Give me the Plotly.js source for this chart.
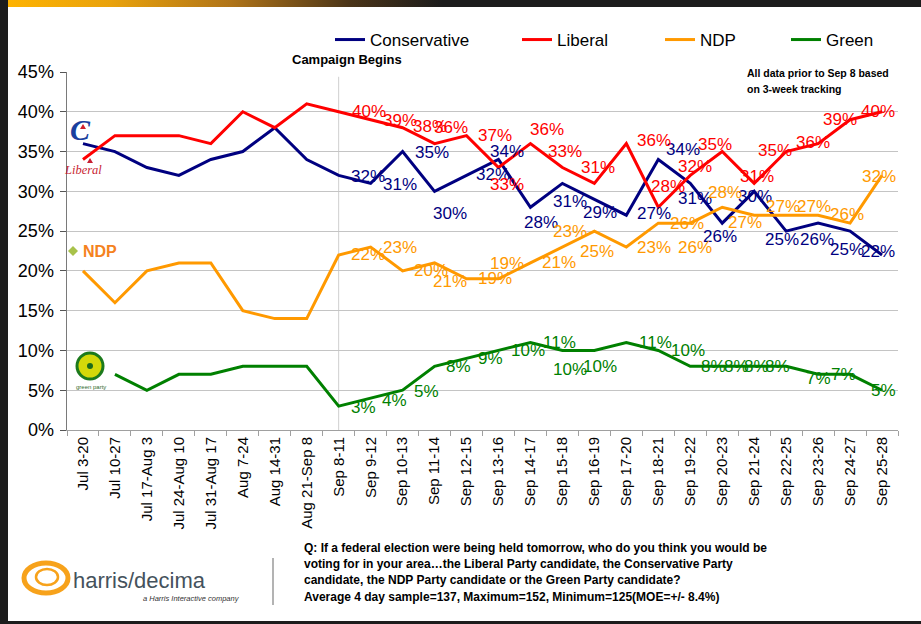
<!DOCTYPE html>
<html>
<head>
<meta charset="utf-8">
<script src="https://cdn.plot.ly/plotly-3.0.1.min.js"></script>
<style>
  html, body { margin: 0; padding: 0; background: #ffffff; }
  #wrap { position: relative; width: 921px; height: 624px; overflow: hidden; }
  #chart { position: absolute; left: 0; top: 0; width: 921px; height: 624px; }
  .frame { position: absolute; pointer-events: none; }
  #topband { left: 0; top: 0; width: 921px; height: 7px;
    background: linear-gradient(to right, #ffb400 0%, #e9a20c 12%, #b07418 25%, #4a3418 38%, #1c1c1c 48%, #1c1c1c 100%); }
  #leftband { left: 0; top: 0; width: 8px; height: 624px; background: #1c1c1c; }
  #bottomband { left: 0; top: 621px; width: 921px; height: 3px; background: #1c1c1c; }
</style>
</head>
<body>
<div id="wrap">
  <div id="chart"></div>
  <div class="frame" id="topband"></div>
  <div class="frame" id="leftband"></div>
  <div class="frame" id="bottomband"></div>
</div>
<script>
// ---------------- DATA ----------------
const categories = ["Jul 3-20","Jul 10-27","Jul 17-Aug 3","Jul 24-Aug 10","Jul 31-Aug 17","Aug 7-24","Aug 14-31","Aug 21-Sep 8",
  "Sep 8-11","Sep 9-12","Sep 10-13","Sep 11-14","Sep 12-15","Sep 13-16","Sep 14-17","Sep 15-18","Sep 16-19","Sep 17-20",
  "Sep 18-21","Sep 19-22","Sep 20-23","Sep 21-24","Sep 22-25","Sep 23-26","Sep 24-27","Sep 25-28"];
const conservative = [36,35,33,32,34,35,38,34,32,31,35,30,32,34,28,31,29,27,34,31,26,30,25,26,25,22];
const liberal      = [34,37,37,37,36,40,38,41,40,39,38,36,37,33,36,33,31,36,28,32,35,31,35,36,39,40];
const ndp          = [20,16,20,21,21,15,14,14,22,23,20,21,19,19,21,23,25,23,26,26,28,27,27,27,26,32];
const green        = [null,7,5,7,7,8,8,8,3,4,5,8,9,10,11,10,10,11,10,8,8,8,8,7,7,5];
const seriesNames  = ["Conservative","Liberal","NDP","Green"];
const campaignStart = "Sep 8-11";
const yTickVals = [0,5,10,15,20,25,30,35,40,45];

// ---------------- STYLE ----------------
const FONT = "Liberation Sans, Arial, Helvetica, sans-serif";
const colors = ["#000080","#ff0000","#ff9900","#008000"];
const firstLabelIdx = 8; // value labels shown only from the campaign start
// label offsets in pixels [dx, dy(down)] for points from firstLabelIdx on
const offCons = [[29,1],[29,1],[29,1],[15,22],[26,-1],[9,-8],[11,15],[8,18],[6,13],[28,-2],[25,-10],[5,15],[-2,13],[1,5],[-4,8],[-1,16],[-3,18],[-4,-3]];
const offLib  = [[30,0],[29,1],[27,-1],[16,-16],[28,0],[9,17],[17,-14],[3,-16],[4,-16],[28,-3],[10,-21],[5,-9],[-7,-7],[3,-7],[-11,-1],[-5,-1],[-10,0],[-4,0]];
const offNdp  = [[29,0],[29,0],[28,0],[15,19],[28,0],[9,-15],[29,0],[8,-16],[3,20],[28,0],[29,0],[5,24],[3,-15],[-9,7],[-3,-9],[-4,-9],[-3,-9],[-3,1]];
const offGrn  = [[25,1],[24,2],[24,1],[24,0],[24,0],[30,0],[29,0],[8,19],[6,16],[29,0],[30,0],[23,0],[14,0],[2,0],[-9,0],[0,4],[-7,0],[1,0]];
const offsets = [offCons, offLib, offNdp, offGrn];
const values = [conservative, liberal, ndp, green];
const legendIds = ["legend","legend2","legend3","legend4"];

const traces = values.map((vals, k) => ({
  type: "scatter",
  mode: "lines",
  name: seriesNames[k],
  x: categories,
  y: vals,
  line: { color: colors[k], width: 3 },
  cliponaxis: false,
  connectgaps: false,
  legend: legendIds[k],
  hoverinfo: "skip"
}));

// value labels (positioned through the axes from the data)
const labelAnns = [];
values.forEach((vals, k) => {
  vals.forEach((v, i) => {
    if (i < firstLabelIdx || v === null) return;
    const o = offsets[k][i - firstLabelIdx];
    labelAnns.push({ xref: "x", yref: "y", x: categories[i], y: v, text: v + "%", showarrow: false,
      xanchor: "center", yanchor: "middle", xshift: o[0], yshift: -o[1],
      font: { family: FONT, size: 17, color: colors[k] } });
  });
});

// pixel helpers for paper coords (plot area: x 67..898, y 72..430)
const PL = 67, PR = 898, PT = 72, PB = 430;
const px = (x) => (x - PL) / (PR - PL);
const py = (y) => (PB - y) / (PB - PT);

const legendBase = { orientation: "h", yanchor: "middle", xanchor: "left", y: py(40),
  font: { family: FONT, size: 17, color: "#000" }, bgcolor: "rgba(0,0,0,0)", borderwidth: 0 };
const legendX = [px(330), px(517), px(660), px(786)];

const ann = (x, y, text, opts) => Object.assign({ xref: "paper", yref: "paper", x: px(x), y: py(y), text: text,
  showarrow: false, xanchor: "center", yanchor: "middle" }, opts || {});

const annotations = [
  ann(347, 60, "<b>Campaign Begins</b>", { font: { family: FONT, size: 13, color: "#000" } }),
  ann(745, 73, "<b>All data prior to Sep 8 based</b>", { xanchor: "left", font: { family: FONT, size: 10.5, color: "#000" } }),
  ann(745, 89, "<b>on 3-week tracking</b>", { xanchor: "left", font: { family: FONT, size: 10.5, color: "#000" } }),
  ann(302, 548, "<b>Q: If a federal election were being held tomorrow, who do you think you would be</b>", { xanchor: "left", font: { family: FONT, size: 12, color: "#000" } }),
  ann(302, 564, "<b>voting for in your area…the Liberal Party candidate, the Conservative Party</b>", { xanchor: "left", font: { family: FONT, size: 12, color: "#000" } }),
  ann(302, 580, "<b>candidate, the NDP Party candidate or the Green Party candidate?</b>", { xanchor: "left", font: { family: FONT, size: 12, color: "#000" } }),
  ann(302, 597, "<b>Average 4 day sample=137, Maximum=152, Minimum=125(MOE=+/- 8.4%)</b>", { xanchor: "left", font: { family: FONT, size: 12, color: "#000" } }),
  ann(139, 580, "harris/decima", { font: { family: FONT, size: 22, color: "#45525c" } }),
  ann(191, 598, "<i>a Harris Interactive company</i>", { font: { family: FONT, size: 7.5, color: "#333" } }),
  // party logos
  ann(80, 129, "<b><i>C</i></b>", { font: { family: "Liberation Serif, serif", size: 30, color: "#1b3f9e" } }),
  ann(83, 170, "<i>Liberal</i>", { font: { family: "Liberation Serif, serif", size: 12.5, color: "#c81e32" } }),
  ann(100, 251, "<b>NDP</b>", { font: { family: FONT, size: 16, color: "#f58220" } }),
  ann(91, 387, "green party", { font: { family: FONT, size: 6, color: "#2f6b2f" } })
].concat(labelAnns);

const pixShape = (cx, cy, obj) => Object.assign({ xref: "paper", yref: "paper", xsizemode: "pixel", ysizemode: "pixel",
  xanchor: px(cx), yanchor: py(cy), layer: "above" }, obj);

const shapes = [
  // Campaign begins vertical line
  { type: "line", xref: "x", yref: "y", x0: campaignStart, x1: campaignStart, y0: 0, y1: 44.4,
    line: { color: "#cfcfcf", width: 1 }, layer: "below" },
  // divider near footer
  { type: "line", xref: "paper", yref: "paper", x0: px(273), x1: px(273), y0: py(558), y1: py(605),
    line: { color: "#9a9a9a", width: 1.5 } },
  // harris/decima logo swirls
  pixShape(46, 578, { type: "circle", x0: -22, x1: 22, y0: -15, y1: 15, line: { color: "#f7a21b", width: 5 } }),
  pixShape(47, 577, { type: "circle", x0: -11, x1: 11, y0: -8, y1: 8, line: { color: "#f7a21b", width: 2.5 } }),
  // green party logo box and disc
  pixShape(90, 370, { type: "rect", x0: -22, x1: 22, y0: -19, y1: 19, fillcolor: "#ffffff", line: { width: 0 } }),
  pixShape(90, 366, { type: "circle", x0: -13, x1: 13, y0: -13, y1: 13, fillcolor: "#d4d80a", line: { color: "#1c7a1c", width: 3 } }),
  pixShape(90, 366, { type: "circle", x0: -3, x1: 3, y0: -3, y1: 3, fillcolor: "#1c6a1c", line: { width: 0 } }),
  // NDP leaf
  pixShape(73, 251, { type: "path", path: "M -5 0 L 0 5 L 5 0 L 0 -5 Z", fillcolor: "#a8c24a", line: { width: 0 } }),
  // Liberal leaf
  pixShape(90, 161, { type: "path", path: "M -3 -2 L 0 3 L 3 -2 Z", fillcolor: "#c81e32", line: { width: 0 } }),
  // Conservative leaf
  pixShape(83, 127, { type: "path", path: "M -3 -2 L 0 3 L 3 -2 Z", fillcolor: "#d21f2b", line: { width: 0 } })
];

const layout = {
  width: 921, height: 624,
  margin: { l: PL, r: 921 - PR, t: PT, b: 624 - PB, pad: 0 },
  paper_bgcolor: "#ffffff",
  plot_bgcolor: "#ffffff",
  font: { family: FONT, color: "#000" },
  showlegend: true,
  legend: Object.assign({}, legendBase, { x: legendX[0] }),
  legend2: Object.assign({}, legendBase, { x: legendX[1] }),
  legend3: Object.assign({}, legendBase, { x: legendX[2] }),
  legend4: Object.assign({}, legendBase, { x: legendX[3] }),
  xaxis: {
    type: "category",
    categoryorder: "array", categoryarray: categories,
    range: [-0.5, categories.length - 0.5],
    tickangle: -90,
    tickfont: { family: FONT, size: 15, color: "#000" },
    showgrid: false,
    showline: true, linecolor: "#a0a0a0", linewidth: 1,
    ticks: "outside", ticklen: 5, tickcolor: "#a0a0a0", tickson: "boundaries",
    zeroline: false, fixedrange: true
  },
  yaxis: {
    range: [0, 45],
    tickvals: yTickVals,
    ticktext: yTickVals.map(v => v + "%"),
    tickfont: { family: FONT, size: 18, color: "#000" },
    showgrid: true, gridcolor: "#c4c4c4", gridwidth: 1,
    showline: true, linecolor: "#7a7a7a", linewidth: 1.5,
    ticks: "outside", ticklen: 6, tickcolor: "#555",
    ticklabelstandoff: 2,
    zeroline: false, fixedrange: true
  },
  annotations: annotations,
  shapes: shapes
};

Plotly.newPlot("chart", traces, layout, { displayModeBar: false, staticPlot: true });
</script>
</body>
</html>
